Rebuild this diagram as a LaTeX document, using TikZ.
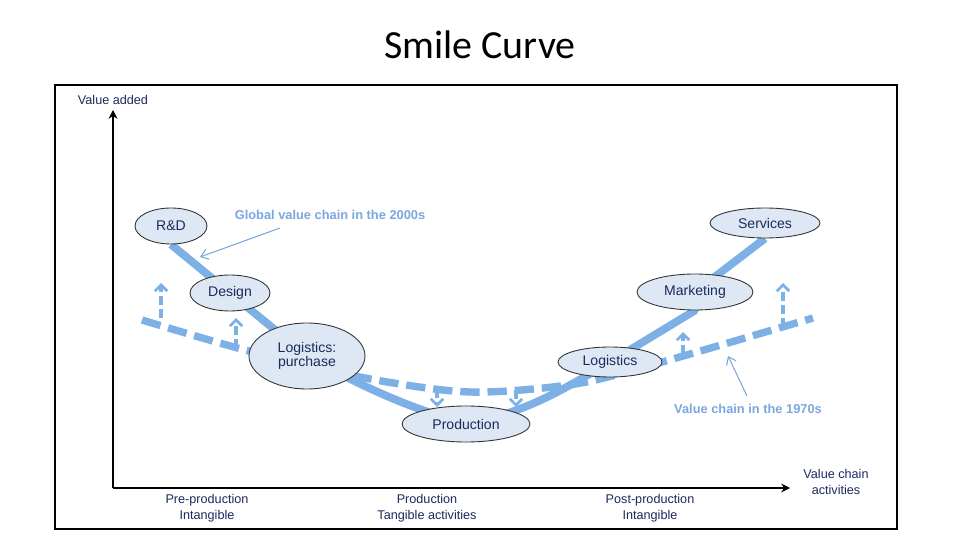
\documentclass[tikz,border=0pt]{standalone}
\usepackage{fontspec}
\setmainfont{Liberation Sans}
\newfontfamily\titlefont{Carlito}
\usetikzlibrary{shapes.geometric,arrows.meta,backgrounds}
\definecolor{linec}{HTML}{7DB1E6}
\definecolor{fillc}{HTML}{DDE8F4}
\definecolor{navy}{HTML}{1C2A5C}
\definecolor{callc}{HTML}{7AA7DE}
\begin{document}
\begin{tikzpicture}[x=0.02cm,y=-0.02cm,
  bubble/.style={ellipse, draw=black!80, line width=0.5pt, fill=fillc, inner sep=0pt,
    font=\fontsize{8}{8}\selectfont, text=navy, align=center},
  axislabel/.style={font=\fontsize{7.2}{9}\selectfont, text=navy, align=center, inner sep=0pt},
  calltext/.style={font=\bfseries\fontsize{7.3}{9}\selectfont, text=callc, inner sep=0pt},
  axisline/.style={line width=1.1pt, -{Stealth[length=5pt,width=5pt]}},
  solidcurve/.style={line width=4.5pt, draw=linec},
  oldcurve/.style={line width=4.2pt, draw=linec, dash pattern=on 11pt off 4.5pt},
  shiftarrow/.style={line width=1.8pt, draw=linec, dash pattern=on 5pt off 2.5pt,
    -{Straight Barb[length=3.5pt,width=7pt,line width=1.6pt]}},
  callout/.style={line width=0.6pt, draw=callc, -{Straight Barb[length=4pt,width=6pt]}}]
\useasboundingbox (0,0) rectangle (960,540);

% title and frame
\node[font=\titlefont\fontsize{22.7}{26}\selectfont, inner sep=0pt] (title) at (480,45) {Smile Curve};
\node[draw, line width=0.8pt, minimum width=16.84cm, minimum height=8.88cm, inner sep=0pt] (frame) at (476,307) {};

% axes
\coordinate (O) at (113,488);
\coordinate (ytop) at (113,110);
\coordinate (xend) at (790,488);
\draw[axisline] (O) -- (ytop);
\draw[axisline] (O) -- (xend);
\node[axislabel] (yl) at (113,100) {Value added};
\node[axislabel] (xl) at (836,482) {Value chain\\activities};
\node[axislabel] (b1) at (207,508) {Pre-production\\Intangible};
\node[axislabel] (b2) at (427,508) {Production\\Tangible activities};
\node[axislabel] (b3) at (650,508) {Post-production\\Intangible};

% bubbles
\node[bubble, minimum width=1.44cm, minimum height=0.72cm] (rd) at (171,226) {R\&D};
\node[bubble, minimum width=1.6cm, minimum height=0.72cm] (des) at (230,293) {Design};
\node[bubble, minimum width=2.32cm, minimum height=1.32cm, font=\fontsize{8}{8.2}\selectfont] (lp) at (307,356) {Logistics:\\purchase};
\node[bubble, minimum width=2.56cm, minimum height=0.72cm] (prod) at (466,424) {Production};
\node[bubble, minimum width=2.08cm, minimum height=0.6cm] (logi) at (610,362) {Logistics};
\node[bubble, minimum width=2.32cm, minimum height=0.72cm] (mkt) at (695,292) {Marketing};
\node[bubble, minimum width=2.2cm, minimum height=0.6cm] (srv) at (765,223) {Services};

% 1970s chain coordinates
\coordinate (d1) at (142,320);
\coordinate (d2) at (245,350);
\coordinate (d3) at (365,378);
\coordinate (d4) at (470,392);
\coordinate (d5) at (575,384);
\coordinate (d6) at (662,362);
\coordinate (d7) at (813,318);

\begin{scope}[on background layer]
  \draw[solidcurve, line join=round] (rd.south) -- (des.center) -- (lp.center)
    .. controls (360,385) and (400,405) .. (prod.center)
    .. controls (530,412) and (570,385) .. (logi.center)
    -- (mkt.south) -- (mkt.center) -- (srv.south);
  \draw[oldcurve] plot[smooth, tension=0.5] coordinates {(d1) (d2) (d3) (d4) (d5) (d6) (d7)};
\end{scope}

% shift arrows
\coordinate (u1a) at (161,318); \coordinate (u1b) at (161,283);
\coordinate (u2a) at (236,348); \coordinate (u2b) at (236,318);
\coordinate (v1a) at (437,389); \coordinate (v1b) at (437,407);
\coordinate (v2a) at (516,390); \coordinate (v2b) at (516,407);
\coordinate (u3a) at (683,354); \coordinate (u3b) at (683,332);
\coordinate (u4a) at (783,327); \coordinate (u4b) at (783,283);
\draw[shiftarrow] (u1a) -- (u1b);
\draw[shiftarrow] (u2a) -- (u2b);
\draw[shiftarrow] (v1a) -- (v1b);
\draw[shiftarrow] (v2a) -- (v2b);
\draw[shiftarrow] (u3a) -- (u3b);
\draw[shiftarrow] (u4a) -- (u4b);

% callouts
\node[calltext] (gl) at (330,215) {Global value chain in the 2000s};
\node[calltext] (vc) at (748,409) {Value chain in the 1970s};
\coordinate (ga) at (280,228); \coordinate (gb) at (200,257);
\coordinate (va) at (747,396); \coordinate (vb) at (728,356);
\draw[callout] (ga) -- (gb);
\draw[callout] (va) -- (vb);
\end{tikzpicture}
\end{document}
